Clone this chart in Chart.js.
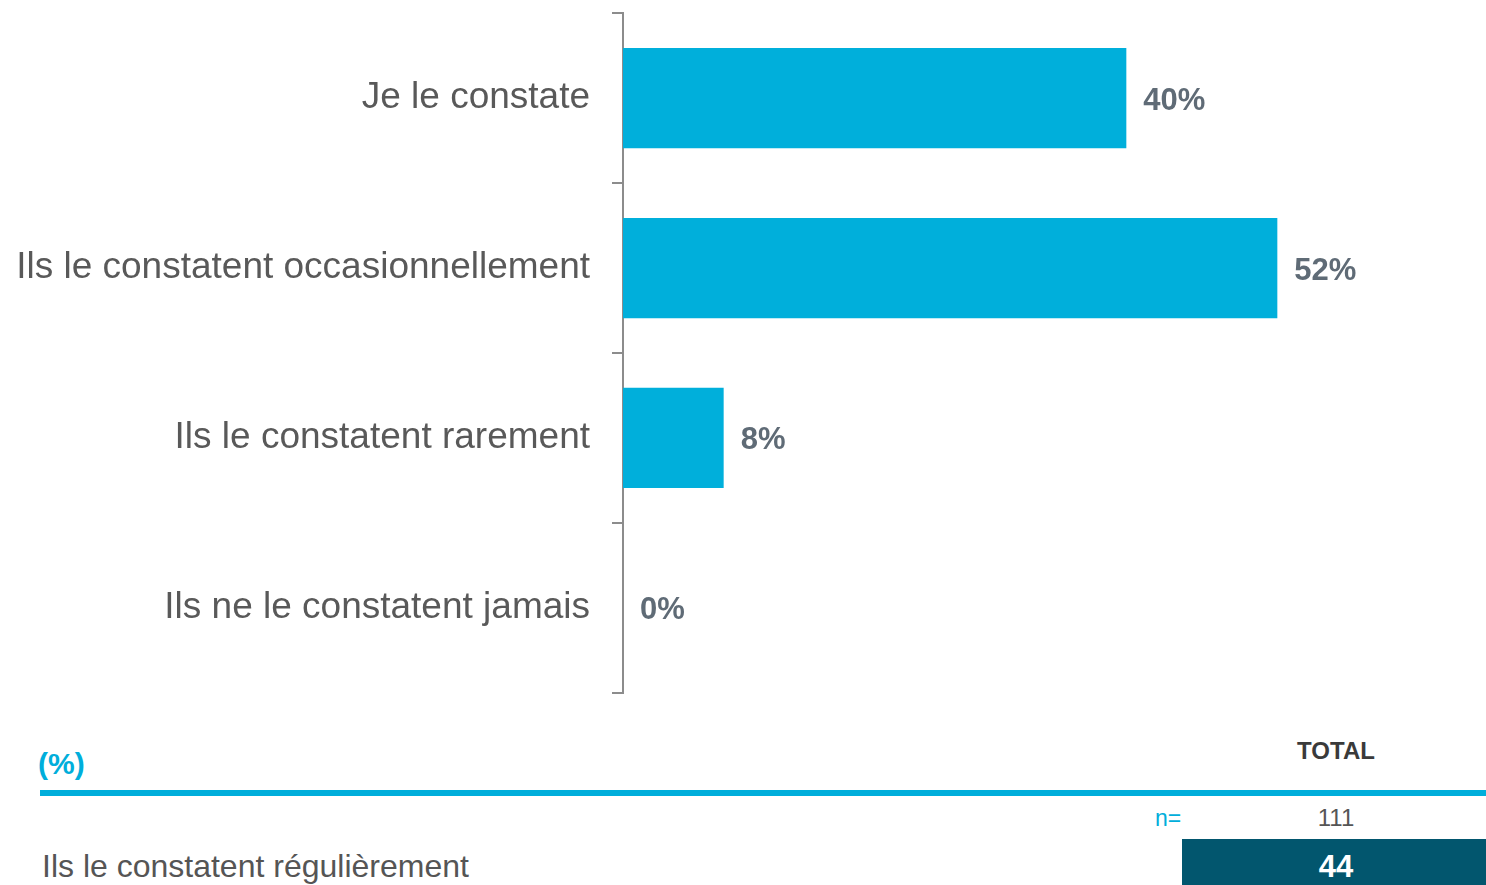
<!DOCTYPE html>
<html lang="fr">
<head>
    <meta charset="UTF-8">
    <title>Ils le constatent</title>
    <script src="https://cdn.jsdelivr.net/npm/chart.js@4.4.1/dist/chart.umd.min.js"></script>
    <style>
        body { margin: 0; background: #fff; font-family: "Liberation Sans", Arial, sans-serif; }
        .page { position: relative; width: 1486px; height: 885px; overflow: hidden; }
        .chart-box { position: absolute; left: 0; top: -31px; width: 1486px; height: 768px; }
        .txt { position: absolute; white-space: nowrap; line-height: 1; }
        .unit { left: 38px; top: 749px; font-size: 30px; font-weight: bold; color: #00aedb; }
        .head { left: 1236px; width: 200px; top: 739px; text-align: center; font-size: 24px; font-weight: bold; color: #3a3a3a; }
        .rule { position: absolute; left: 40px; right: 0; top: 790px; height: 6px; background: #00aedb; }
        .base-lbl { left: 1155px; top: 807px; font-size: 23px; color: #00aedb; }
        .base-val { left: 1236px; width: 200px; top: 806px; text-align: center; font-size: 24px; color: #555; }
        .row-lbl { left: 42px; top: 850px; font-size: 32px; color: #555; }
        .cell { position: absolute; left: 1182px; top: 839px; width: 304px; height: 46px; background: #02566e; }
        .cell-val { left: 1236px; width: 200px; top: 851px; text-align: center; font-size: 31px; font-weight: bold; color: #fff; }
    </style>
</head>
<body>
<div class="page">
    <div class="chart-box"><canvas id="chart"></canvas></div>
    <div class="txt unit">(%)</div>
    <div class="txt head" id="head"></div>
    <div class="rule"></div>
    <div class="txt base-lbl">n=</div>
    <div class="txt base-val" id="base"></div>
    <div class="txt row-lbl" id="rowLabel"></div>
    <div class="cell"></div>
    <div class="txt cell-val" id="rowValue"></div>
</div>

<script>
    // answer categories and shares (%)
    const categories = [
        'Je le constate',
        'Ils le constatent occasionnellement',
        'Ils le constatent rarement',
        'Ils ne le constatent jamais'
    ];
    const values = [40, 52, 8, 0];

    // summary row under the chart
    const columnTitle = 'TOTAL';
    const baseCount = 111;
    const summaryLabel = 'Ils le constatent régulièrement';
    const summaryValue = 44;

    document.getElementById('head').textContent = columnTitle;
    document.getElementById('base').textContent = baseCount;
    document.getElementById('rowLabel').textContent = summaryLabel;
    document.getElementById('rowValue').textContent = summaryValue;

    const FONT = '"Liberation Sans", Arial, sans-serif';

    // percentage printed just past the end of each bar
    const valueLabels = {
        id: 'valueLabels',
        afterDatasetsDraw(chart) {
            const ctx = chart.ctx;
            const meta = chart.getDatasetMeta(0);
            ctx.save();
            ctx.font = 'bold 31px ' + FONT;
            ctx.fillStyle = '#5f6b76';
            ctx.textBaseline = 'middle';
            meta.data.forEach((bar, i) => {
                ctx.fillText(values[i] + '%', bar.x + 17, bar.y + 3);
            });
            ctx.restore();
        }
    };

    new Chart(document.getElementById('chart'), {
        type: 'bar',
        data: {
            labels: categories,
            datasets: [{
                data: values,
                backgroundColor: '#00afdb',
                borderWidth: 0,
                barPercentage: 0.59,
                categoryPercentage: 1
            }]
        },
        options: {
            indexAxis: 'y',
            responsive: true,
            maintainAspectRatio: false,
            animation: false,
            layout: { padding: { top: 13, bottom: 13, right: 108, left: 0 } },
            plugins: {
                legend: { display: false },
                tooltip: { enabled: false }
            },
            scales: {
                x: {
                    display: false,
                    min: 0,
                    max: 60
                },
                y: {
                    afterFit: s => { s.width = 623; },
                    grid: {
                        display: true,
                        drawOnChartArea: false,
                        offset: true,
                        tickLength: 11,
                        color: '#8c8c8c',
                        lineWidth: 2
                    },
                    border: { display: true, color: '#8c8c8c', width: 2 },
                    ticks: {
                        padding: 22,
                        color: '#595959',
                        font: { family: FONT, size: 37 }
                    }
                }
            }
        },
        plugins: [valueLabels]
    });
</script>
</body>
</html>
